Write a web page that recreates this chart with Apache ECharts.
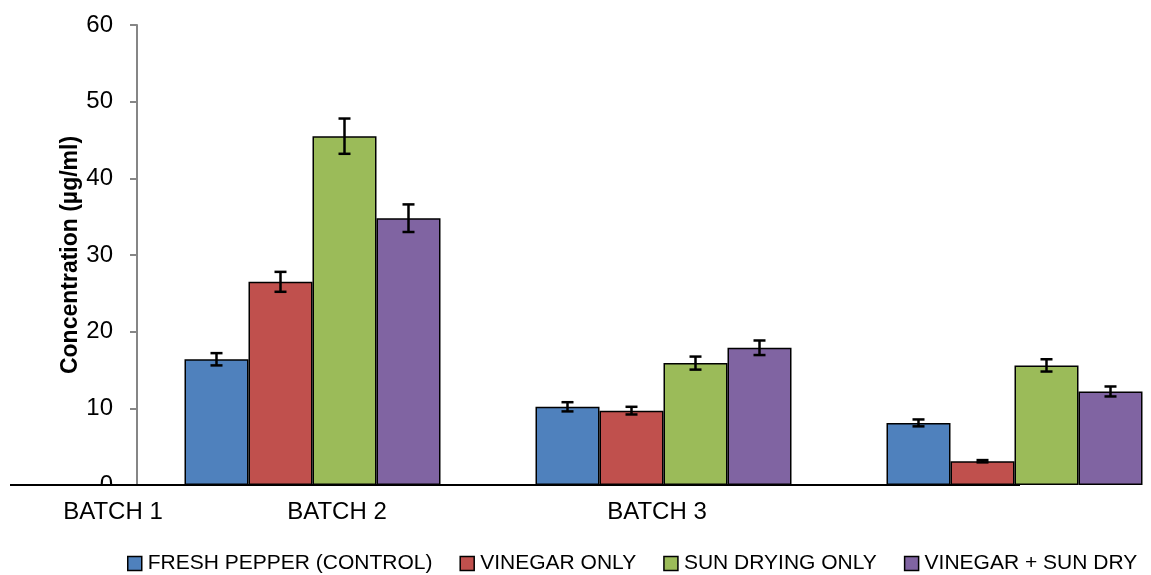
<!DOCTYPE html>
<html><head><meta charset="utf-8">
<script src="https://cdn.jsdelivr.net/npm/echarts@6/dist/echarts.min.js"></script>
<style>html,body{margin:0;padding:0;background:#fff}#c{width:1151px;height:575px}</style>
</head><body><div id="c"></div>
<script>
const batchLabels = ['BATCH 1', 'BATCH 2', 'BATCH 3'];
const seriesNames = ['FRESH PEPPER (CONTROL)', 'VINEGAR ONLY', 'SUN DRYING ONLY', 'VINEGAR + SUN DRY'];
const freshPepper = [16.4, 10.2, 8.1];
const vinegarOnly = [26.5, 9.7, 3.1];
const sunDryingOnly = [45.5, 15.9, 15.6];
const vinegarSunDry = [34.8, 17.9, 12.2];
const freshPepperErr = [0.8, 0.6, 0.45];
const vinegarOnlyErr = [1.3, 0.5, 0.15];
const sunDryingOnlyErr = [2.3, 0.85, 0.8];
const vinegarSunDryErr = [1.8, 0.95, 0.65];
const yTicks = [0, 10, 20, 30, 40, 50, 60];

const colors = ['#4F81BD', '#C0504D', '#9BBB59', '#8064A2'];
const values = [freshPepper, vinegarOnly, sunDryingOnly, vinegarSunDry];
const errs = [freshPepperErr, vinegarOnlyErr, sunDryingOnlyErr, vinegarSunDryErr];
const BW = 64;
const FONT = 'Liberation Sans';

const chart = echarts.init(document.getElementById('c'));
const series = [];
values.forEach((v, i) => {
  series.push({
    name: seriesNames[i], type: 'bar', data: v.map((val, k) => [k, val]),
    barWidth: BW, barGap: '0%',
    itemStyle: { color: colors[i], borderColor: '#000', borderWidth: 1.5 },
    z: 2
  });
});
values.forEach((v, i) => {
  const off = (i - 1.5) * BW;
  series.push({
    type: 'custom', name: 'err' + i, z: 5,
    data: v.map((val, k) => [k, val, errs[i][k]]),
    renderItem: (params, api) => {
      const x = api.value(0), y = api.value(1), e = api.value(2);
      const top = api.coord([x, y + e]);
      const bot = api.coord([x, y - e]);
      const cx = top[0] + off;
      const st = { stroke: '#000', lineWidth: 2.5 };
      return { type: 'group', children: [
        { type: 'line', shape: { x1: cx, y1: top[1], x2: cx, y2: bot[1] }, style: st },
        { type: 'line', shape: { x1: cx - 6, y1: top[1], x2: cx + 6, y2: top[1] }, style: st },
        { type: 'line', shape: { x1: cx - 6, y1: bot[1], x2: cx + 6, y2: bot[1] }, style: st }
      ]};
    }
  });
});

const batchX = [113, 337, 657];
chart.setOption({
  animation: false,
  grid: { left: 137, top: 25, bottom: 90, right: 0 },
  xAxis: {
    type: 'value', min: -0.5, max: 1014 / 351 - 0.5,
    axisLine: { show: false }, axisTick: { show: false }, axisLabel: { show: false },
    splitLine: { show: false }
  },
  yAxis: {
    type: 'value', min: yTicks[0], max: yTicks[yTicks.length - 1], interval: 10,
    name: 'Concentration (µg/ml)', nameLocation: 'middle', nameGap: 55, nameMoveOverlap: false,
    nameTextStyle: { fontFamily: 'Liberation Sans', fontWeight: 'bold', fontSize: 23, color: '#000' },
    axisLine: { show: true, onZero: false, lineStyle: { color: '#868686', width: 2 } },
    axisTick: { show: true, length: 7, lineStyle: { color: '#868686', width: 2 } },
    splitLine: { show: false },
    axisLabel: { fontFamily: FONT, fontSize: 24, color: '#000', margin: 24 }
  },
  legend: {
    data: seriesNames, left: 127, top: 553, itemGap: 27, itemWidth: 14, itemHeight: 14,
    icon: 'rect', padding: 0,
    itemStyle: { borderColor: '#000', borderWidth: 1.5 },
    textStyle: { fontFamily: FONT, fontSize: 21, color: '#000', padding: [0, 0, 0, 1] }
  },
  graphic: [
    { type: 'rect', shape: { x: 80, y: 486, width: 50, height: 14 }, style: { fill: '#fff' }, z: 100 },
    { type: 'line', shape: { x1: 10, y1: 485, x2: 1020, y2: 485 }, style: { stroke: '#000', lineWidth: 2 }, z: 101 }
  ].concat(batchLabels.map((t, i) => ({
    type: 'text', x: batchX[i], y: 512, z: 101,
    style: { text: t, fontFamily: FONT, fontSize: 24, fill: '#000', textAlign: 'center', textVerticalAlign: 'middle' }
  }))),
  series: series
});
</script></body></html>
